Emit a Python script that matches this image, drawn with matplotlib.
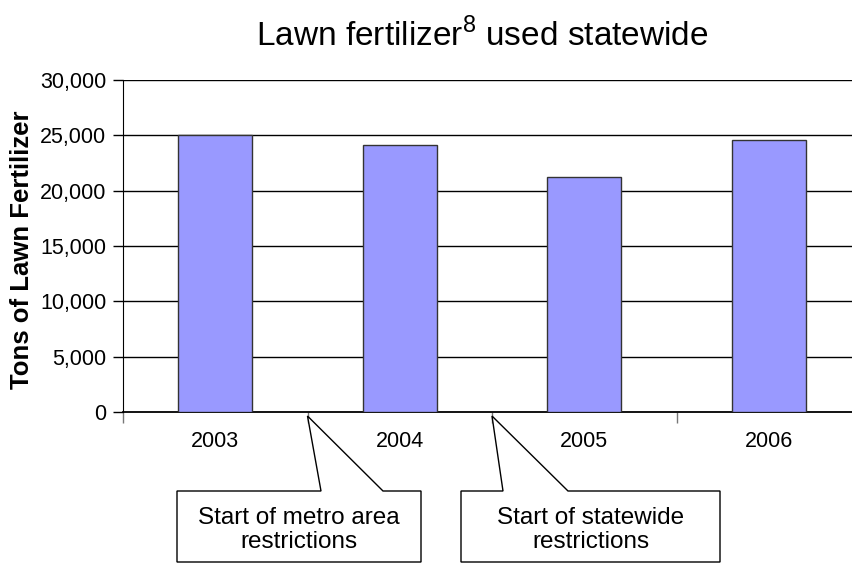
import numpy as np
import matplotlib
matplotlib.use("Agg")
import matplotlib.pyplot as plt
from matplotlib.patches import Polygon

plt.rcParams['font.family'] = ['Liberation Sans', 'DejaVu Sans']
plt.rcParams['mathtext.fontset'] = 'custom'
plt.rcParams['mathtext.rm'] = 'Liberation Sans'

years = ['2003', '2004', '2005', '2006']
tons = [25000, 24100, 21200, 24600]
notes = ['Start of metro area\nrestrictions', 'Start of statewide\nrestrictions']
note_pos = [0.5, 1.5]  # between categories

W, H = 852, 564
fig = plt.figure(figsize=(W / 100, H / 100), dpi=100)

def px(x, y):
    # pixel from top-left -> figure fraction
    return x / W, 1 - y / H

ax = fig.add_axes([123 / W, 1 - 412 / H, 738 / W, 332 / H])
x = np.arange(len(years))
ax.bar(x, tons, width=0.4, color='#9999ff', edgecolor='#333333', linewidth=1, zorder=3)

ax.set_xlim(-0.5, 3.5)
ax.set_ylim(0, 30000)
yt = np.arange(0, 30001, 5000)
ax.set_yticks(yt)
ax.set_yticklabels([f'{v:,}' for v in yt], fontsize=15.5)
for v in yt[1:]:
    ax.axhline(v, color='black', linewidth=1, zorder=1)

ax.set_xticks(x)
ax.set_xticklabels(years, fontsize=15.5)
ax.set_xticks(np.arange(-0.5, 4, 1), minor=True)
ax.tick_params(axis='x', which='major', length=0, pad=14)
ax.tick_params(axis='x', which='minor', length=8, color='#777777', width=1)
ax.tick_params(axis='y', length=7, width=1, color='black', pad=5)

for s in ['top', 'right']:
    ax.spines[s].set_visible(False)
ax.spines['left'].set_color('black')
ax.spines['bottom'].set_color('black')
ax.spines['bottom'].set_linewidth(1.3)

ax.set_ylabel('Tons of Lawn Fertilizer', fontsize=18.5, fontweight='bold')
ax.yaxis.set_label_coords(-0.121, 0.49)

fig.text(*px(482, 35), r'Lawn fertilizer$^{\mathregular{8}}$ used statewide',
         fontsize=24, ha='center', va='center')

# callout boxes
boxes = [(177, 421, 321, 383), (461, 720, 503, 568)]
top, bottom = 491, 562
for (l, r, w1, w2), txt, xp in zip(boxes, notes, note_pos):
    tx, ty = ax.transData.transform((xp, 0))
    tip = (tx / W, ty / H - 4 / H)
    verts = [px(l, top), px(w1, top), tip, px(w2, top), px(r, top),
             px(r, bottom), px(l, bottom)]
    fig.patches.append(Polygon(verts, closed=True, facecolor='white',
                               edgecolor='black', linewidth=1,
                               transform=fig.transFigure, figure=fig))
    fig.text(*px((l + r) / 2, 530), txt, fontsize=17.5, ha='center',
             va='center', linespacing=1.1)

fig.savefig('out.png', dpi=100)
